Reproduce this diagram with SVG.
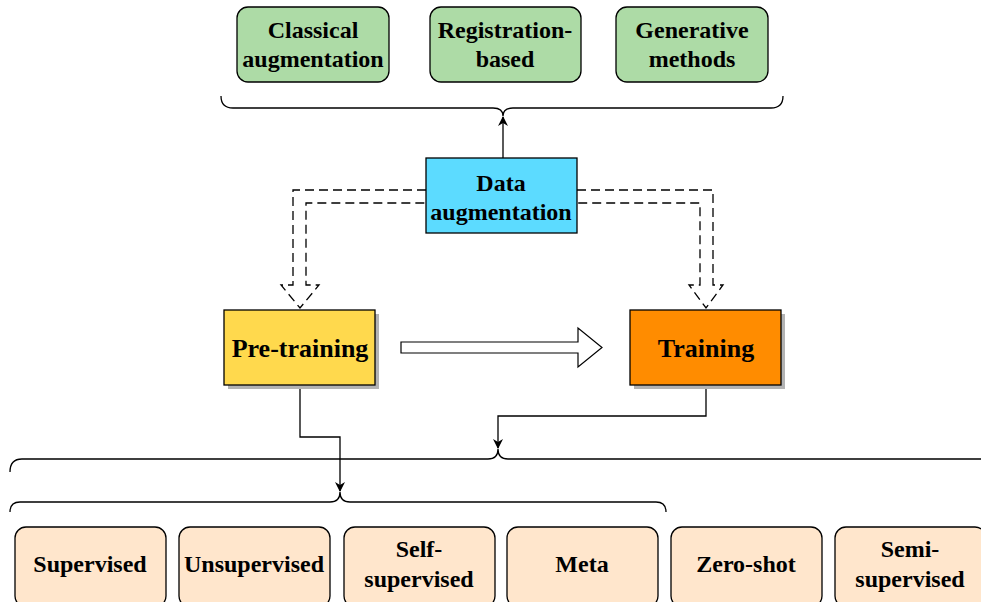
<svg xmlns="http://www.w3.org/2000/svg" width="981" height="602" viewBox="0 0 981 602">
<defs>
<style>
text{font-family:"Liberation Serif","Times New Roman",serif;font-weight:bold;fill:#000;text-anchor:middle;dominant-baseline:central}
.t24{font-size:24px}
.t26{font-size:26px}
.green{fill:#addba6;stroke:#000;stroke-width:1.3}
.peach{fill:#ffe6cc;stroke:#000;stroke-width:1.3}
.line{fill:none;stroke:#000;stroke-width:1.3}
.dash{fill:none;stroke:#000;stroke-width:1.3;stroke-dasharray:9 5}
.brace{fill:none;stroke:#000;stroke-width:1.3}
</style>
<marker id="ah" viewBox="0 0 10 10" refX="9" refY="5" markerWidth="11" markerHeight="10" markerUnits="userSpaceOnUse" orient="auto">
<path d="M0,0 L10,5 L0,10 L3,5 Z" fill="#000"/>
</marker>
</defs>

<g id="classical"><rect class="green" x="237" y="7" width="152" height="75" rx="11"/><text class="t24" x="313" y="30">Classical</text><text class="t24" x="313" y="59">augmentation</text></g>
<g id="registration"><rect class="green" x="430" y="7" width="151" height="75" rx="11"/><text class="t24" x="505" y="30">Registration-</text><text class="t24" x="505" y="59">based</text></g>
<g id="generative"><rect class="green" x="616" y="7" width="152" height="75" rx="11"/><text class="t24" x="692" y="30">Generative</text><text class="t24" x="692" y="59">methods</text></g>

<g id="connectors">
<path class="brace" d="M221,96 Q221,108 233,108 L493,108 Q503,108 503,116 Q503,108 513,108 L771,108 Q783,108 783,96"/>
<path class="line" d="M503,158 L503,117" marker-end="url(#ah)"/>
<path class="dash" d="M426,190 L293,190 L293,285 L281,285 L300,308 L319,285 L306,285 L306,203 L426,203"/>
<path class="dash" d="M577,190 L713,190 L713,285 L723,285 L706,308 L689,285 L700,285 L700,203 L577,203"/>
<path fill="#fff" stroke="#000" stroke-width="1.2" d="M401,342 L578,342 L578,328 L602,347.5 L578,367 L578,353 L401,353 Z"/>
<path class="brace" d="M10,472 Q10,459 22,459 L488,459 Q498,459 498,449 Q498,459 508,459 L981,459"/>
<path class="line" d="M706,385 L706,416 L498,416 L498,448" marker-end="url(#ah)"/>
<path class="brace" d="M10,512 Q10,502 20,502 L330,502 Q340,502 340,492 Q340,502 350,502 L656,502 Q666,502 666,512"/>
<path class="line" d="M300,385 L300,437 L340,437 L340,491" marker-end="url(#ah)"/>
</g>

<g id="data-augmentation"><rect x="426" y="158" width="151" height="75" fill="#5cdbff" stroke="#000" stroke-width="1.3"/><text class="t24" x="501" y="183">Data</text><text class="t24" x="501" y="212">augmentation</text></g>
<g id="pre-training"><rect x="228" y="314" width="151" height="75" fill="#b3b3b3"/><rect x="224" y="310" width="151" height="75" fill="#ffd94d" stroke="#000" stroke-width="1.3"/><text class="t26" x="300" y="348">Pre-training</text></g>
<g id="training"><rect x="634" y="314" width="151" height="75" fill="#b3b3b3"/><rect x="630" y="310" width="151" height="75" fill="#ff8c00" stroke="#000" stroke-width="1.3"/><text class="t26" x="706" y="348">Training</text></g>

<g id="supervised"><rect class="peach" x="15" y="527" width="151" height="80" rx="11"/><text class="t24" x="90" y="564">Supervised</text></g>
<g id="unsupervised"><rect class="peach" x="179" y="527" width="151" height="80" rx="11"/><text class="t24" x="254" y="564">Unsupervised</text></g>
<g id="self-supervised"><rect class="peach" x="344" y="527" width="151" height="80" rx="11"/><text class="t24" x="419" y="549">Self-</text><text class="t24" x="419" y="579">supervised</text></g>
<g id="meta"><rect class="peach" x="507" y="527" width="151" height="80" rx="11"/><text class="t24" x="582" y="564">Meta</text></g>
<g id="zero-shot"><rect class="peach" x="671" y="527" width="151" height="80" rx="11"/><text class="t24" x="746" y="564">Zero-shot</text></g>
<g id="semi-supervised"><rect class="peach" x="835" y="527" width="151" height="80" rx="11"/><text class="t24" x="910" y="549">Semi-</text><text class="t24" x="910" y="579">supervised</text></g>
</svg>
